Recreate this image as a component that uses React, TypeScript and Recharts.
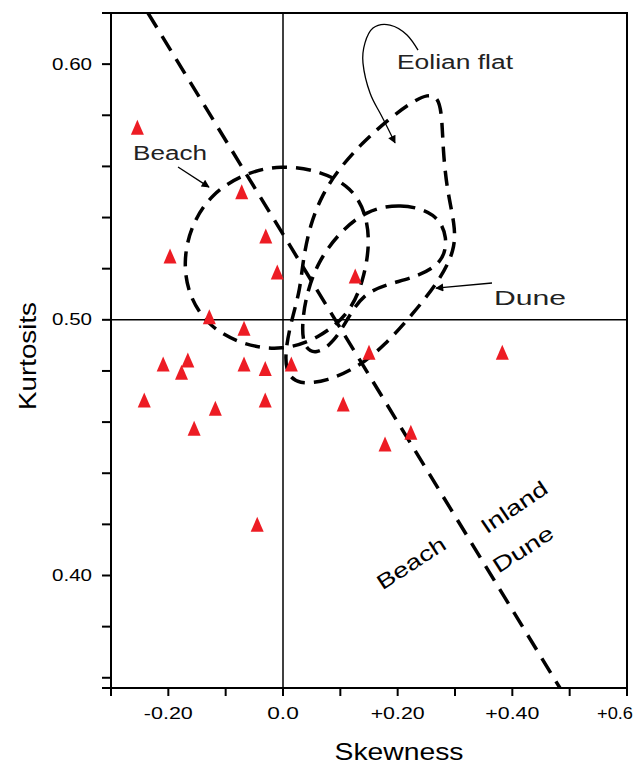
import React from 'react'
import {
  ScatterChart,
  Scatter,
  XAxis,
  YAxis,
  ReferenceLine,
  ReferenceArea,
  ReferenceDot
} from 'recharts'

// Sample points
const skewness = [
  -0.254, -0.072, -0.03, -0.197, -0.01, -0.1285, -0.068, -0.209, -0.166, -0.177, -0.068, -0.031,
  0.0145, -0.242, -0.155, -0.118, -0.031, -0.045, 0.126, 0.15, 0.105, 0.178, 0.223, 0.3825
]
const kurtosis = [
  0.5753, 0.5501, 0.5328, 0.525, 0.5187, 0.5012, 0.4967, 0.4827, 0.4843, 0.4795, 0.4827, 0.481,
  0.4827, 0.4686, 0.4576, 0.4654, 0.4686, 0.42, 0.5171, 0.4873, 0.4671, 0.4514, 0.456, 0.4873
]
const samples = skewness.map((x, i) => ({ x, y: kurtosis[i] }))

// Hand-drawn field outlines (skewness, kurtosis)
const beachField = [
  { x: -0.0052, y: 0.5606 }, { x: 0.068, y: 0.5582 }, { x: 0.1203, y: 0.5516 }, { x: 0.1448, y: 0.5418 },
  { x: 0.1518, y: 0.5293 }, { x: 0.1395, y: 0.5148 }, { x: 0.1169, y: 0.5027 }, { x: 0.0645, y: 0.4929 },
  { x: -0.0017, y: 0.4878 }, { x: -0.0698, y: 0.4901 }, { x: -0.1291, y: 0.4972 }, { x: -0.164, y: 0.5089 },
  { x: -0.1744, y: 0.5226 }, { x: -0.1605, y: 0.5371 }, { x: -0.1238, y: 0.5496 }, { x: -0.0663, y: 0.5574 }
]
const eolianField = [
  { x: 0.2529, y: 0.5883 }, { x: 0.2704, y: 0.5871 }, { x: 0.2773, y: 0.5801 }, { x: 0.2791, y: 0.5664 },
  { x: 0.286, y: 0.5508 }, { x: 0.3, y: 0.5371 }, { x: 0.3, y: 0.5273 }, { x: 0.2738, y: 0.5156 },
  { x: 0.225, y: 0.5019 }, { x: 0.1779, y: 0.4901 }, { x: 0.1308, y: 0.4815 }, { x: 0.0785, y: 0.4761 },
  { x: 0.0262, y: 0.4745 }, { x: 0.0035, y: 0.4796 }, { x: 0.0052, y: 0.4901 }, { x: 0.0174, y: 0.5019 },
  { x: 0.0297, y: 0.5117 }, { x: 0.0349, y: 0.5234 }, { x: 0.0471, y: 0.5371 }, { x: 0.068, y: 0.5488 },
  { x: 0.0959, y: 0.5586 }, { x: 0.1378, y: 0.5692 }, { x: 0.1866, y: 0.5789 }, { x: 0.225, y: 0.5852 }
]
const duneField = [
  { x: 0.143, y: 0.5426 }, { x: 0.2041, y: 0.5457 }, { x: 0.2686, y: 0.5418 }, { x: 0.2878, y: 0.532 },
  { x: 0.2791, y: 0.5226 }, { x: 0.239, y: 0.5172 }, { x: 0.1831, y: 0.514 }, { x: 0.1395, y: 0.5101 },
  { x: 0.1134, y: 0.5007 }, { x: 0.089, y: 0.4913 }, { x: 0.0576, y: 0.4862 }, { x: 0.0349, y: 0.4894 },
  { x: 0.0331, y: 0.4992 }, { x: 0.0419, y: 0.5109 }, { x: 0.0611, y: 0.5226 }, { x: 0.0959, y: 0.5336 }
]
const dividerLine = [{ x: -0.2355, y: 0.62 }, { x: 0.4831, y: 0.356 }]

// Label pointers
const eolianArrow = [
  { x: 0.2355, y: 0.6055 }, { x: 0.2163, y: 0.6114 }, { x: 0.1866, y: 0.6153 }, { x: 0.157, y: 0.6141 },
  { x: 0.143, y: 0.6083 }, { x: 0.1395, y: 0.6004 }, { x: 0.1518, y: 0.5887 }, { x: 0.1692, y: 0.5809 },
  { x: 0.1954, y: 0.5692 }
]
const beachArrow = [{ x: -0.1831, y: 0.5598 }, { x: -0.1291, y: 0.5519 }]
const duneArrow = [{ x: 0.3645, y: 0.5144 }, { x: 0.2669, y: 0.5124 }]

// Annotation labels
const labelTexts = ['Eolian flat', 'Beach', 'Dune', 'Beach', 'Inland', 'Dune']
const labelX = [0.3, -0.1971, 0.4308, 0.2233, 0.4029, 0.4186]
const labelY = [0.6008, 0.5652, 0.5085, 0.4049, 0.4268, 0.4104]
const labelLength = [116, 74, 72, 78, 76, 68]
const labelAngle = [0, 0, 0, -33, -34, -33]

// Axes
const xTicks = [-0.3, -0.2, -0.1, 0, 0.1, 0.2, 0.3, 0.4, 0.5, 0.6]
const xTickText: Record<string, [string, number]> = {
  '-0.2': ['-0.20', 49],
  '0': ['0.0', 31.5],
  '0.2': ['+0.20', 54],
  '0.4': ['+0.40', 54],
  '0.6': ['+0.6', 36]
}
const yTicks = [0.356, 0.36, 0.38, 0.4, 0.42, 0.44, 0.46, 0.48, 0.5, 0.52, 0.54, 0.56, 0.58, 0.6, 0.62]
const yTickText: Record<string, string> = { '0.4': '0.40', '0.5': '0.50', '0.6': '0.60' }

const FONT = '"Liberation Sans", Arial, sans-serif'
const RED = '#ED1C24'

const renderNothing = () => <g />

const renderTriangle = (p: any) => (
  <path
    d={`M${p.cx},${p.cy - 7.5} L${p.cx + 6.5},${p.cy + 7.5} L${p.cx - 6.5},${p.cy + 7.5} Z`}
    fill={RED}
  />
)

const XTick = (p: any) => {
  const v = p.payload.value
  const entry = xTickText[String(v)]
  if (!entry) return <g />
  // last label sits against the right edge of the figure
  const last = v === 0.6
  return (
    <text
      x={last ? p.x + 6 : p.x}
      y={p.y + 15}
      textAnchor={last ? 'end' : 'middle'}
      dominantBaseline="central"
      fontFamily={FONT}
      fontSize={17}
      fill="#000"
      textLength={entry[1]}
      lengthAdjust="spacingAndGlyphs"
    >
      {entry[0]}
    </text>
  )
}

const YTick = (p: any) => {
  const label = yTickText[String(p.payload.value)]
  if (!label) return <g />
  return (
    <text
      x={p.x - 8}
      y={p.y}
      textAnchor="end"
      dominantBaseline="central"
      fontFamily={FONT}
      fontSize={17}
      fill="#000"
      textLength={40}
      lengthAdjust="spacingAndGlyphs"
    >
      {label}
    </text>
  )
}

const XTitle = (p: any) => {
  const vb = p.viewBox || { x: 111, y: 688 }
  return (
    <text
      x={vb.x + 288}
      y={vb.y + 63}
      textAnchor="middle"
      dominantBaseline="central"
      fontFamily={FONT}
      fontSize={24}
      fill="#000"
      textLength={129}
      lengthAdjust="spacingAndGlyphs"
    >
      Skewness
    </text>
  )
}

const YTitle = (p: any) => {
  const vb = p.viewBox || { x: 0, y: 13, height: 675 }
  const cx = vb.x + 27
  const cy = 356
  return (
    <text
      x={cx}
      y={cy}
      transform={`rotate(-90 ${cx} ${cy})`}
      textAnchor="middle"
      dominantBaseline="central"
      fontFamily={FONT}
      fontSize={24}
      fill="#000"
      textLength={108}
      lengthAdjust="spacingAndGlyphs"
    >
      Kurtosits
    </text>
  )
}

const dashed = { stroke: '#000', strokeWidth: 3.5, strokeDasharray: '15 9' }
const pointer = { stroke: '#000', strokeWidth: 1.3, markerEnd: 'url(#arrowHead)' }

export default function App() {
  return (
    <div style={{ position: 'fixed', left: 0, top: 0, width: 635, height: 765, background: '#fff' }}>
      <ScatterChart width={635} height={765} margin={{ top: 13, right: 8, bottom: 0, left: 0 }}>
        <defs>
          <marker
            id="arrowHead"
            viewBox="0 0 10 10"
            refX="9"
            refY="5"
            markerWidth="11"
            markerHeight="8"
            markerUnits="userSpaceOnUse"
            orient="auto"
          >
            <path d="M0,0 L10,5 L0,10 z" fill="#000" />
          </marker>
        </defs>

        <XAxis
          type="number"
          dataKey="x"
          domain={[-0.3, 0.6]}
          ticks={xTicks}
          interval={0}
          allowDataOverflow
          height={77}
          tickSize={8}
          axisLine={{ stroke: '#000', strokeWidth: 2 }}
          tickLine={{ stroke: '#000', strokeWidth: 2 }}
          tick={XTick}
          label={<XTitle />}
        />
        <YAxis
          type="number"
          dataKey="y"
          domain={[0.356, 0.62]}
          ticks={yTicks}
          interval={0}
          allowDataOverflow
          width={111}
          tickSize={9}
          axisLine={{ stroke: '#000', strokeWidth: 2 }}
          tickLine={{ stroke: '#000', strokeWidth: 2 }}
          tick={YTick}
          label={<YTitle />}
        />

        {/* frame and zero lines */}
        <ReferenceArea
          x1={-0.3}
          x2={0.6}
          y1={0.356}
          y2={0.62}
          fill="none"
          fillOpacity={0}
          stroke="#000"
          strokeWidth={2}
          ifOverflow="visible"
        />
        <ReferenceLine x={0} stroke="#000" strokeWidth={1.5} />
        <ReferenceLine y={0.5} stroke="#000" strokeWidth={1.5} />

        {/* fields */}
        <Scatter data={beachField} shape={renderNothing} line={dashed} lineJointType="basisClosed" fill="none" isAnimationActive={false} />
        <Scatter data={eolianField} shape={renderNothing} line={dashed} lineJointType="basisClosed" fill="none" isAnimationActive={false} />
        <Scatter data={duneField} shape={renderNothing} line={dashed} lineJointType="basisClosed" fill="none" isAnimationActive={false} />
        <Scatter
          data={dividerLine}
          shape={renderNothing}
          line={{ stroke: '#000', strokeWidth: 3.5, strokeDasharray: '17 10' }}
          fill="none"
          isAnimationActive={false}
        />

        {/* pointers */}
        <Scatter data={eolianArrow} shape={renderNothing} line={pointer} lineJointType="natural" fill="none" isAnimationActive={false} />
        <Scatter data={beachArrow} shape={renderNothing} line={pointer} fill="none" isAnimationActive={false} />
        <Scatter data={duneArrow} shape={renderNothing} line={pointer} fill="none" isAnimationActive={false} />

        {/* samples */}
        <Scatter data={samples} shape={renderTriangle} fill={RED} isAnimationActive={false} />

        {/* labels */}
        {labelTexts.map((t, i) => (
          <ReferenceDot
            key={`lbl-${i}`}
            x={labelX[i]}
            y={labelY[i]}
            r={1}
            ifOverflow="visible"
            shape={(p: any) => (
              <text
                x={p.cx}
                y={p.cy}
                transform={labelAngle[i] ? `rotate(${labelAngle[i]} ${p.cx} ${p.cy})` : undefined}
                textAnchor="middle"
                dominantBaseline="central"
                fontFamily={FONT}
                fontSize={i < 3 ? 20 : 21}
                fill={i < 3 ? '#222' : '#000'}
                textLength={labelLength[i]}
                lengthAdjust="spacingAndGlyphs"
              >
                {t}
              </text>
            )}
          />
        ))}
      </ScatterChart>
    </div>
  )
}
